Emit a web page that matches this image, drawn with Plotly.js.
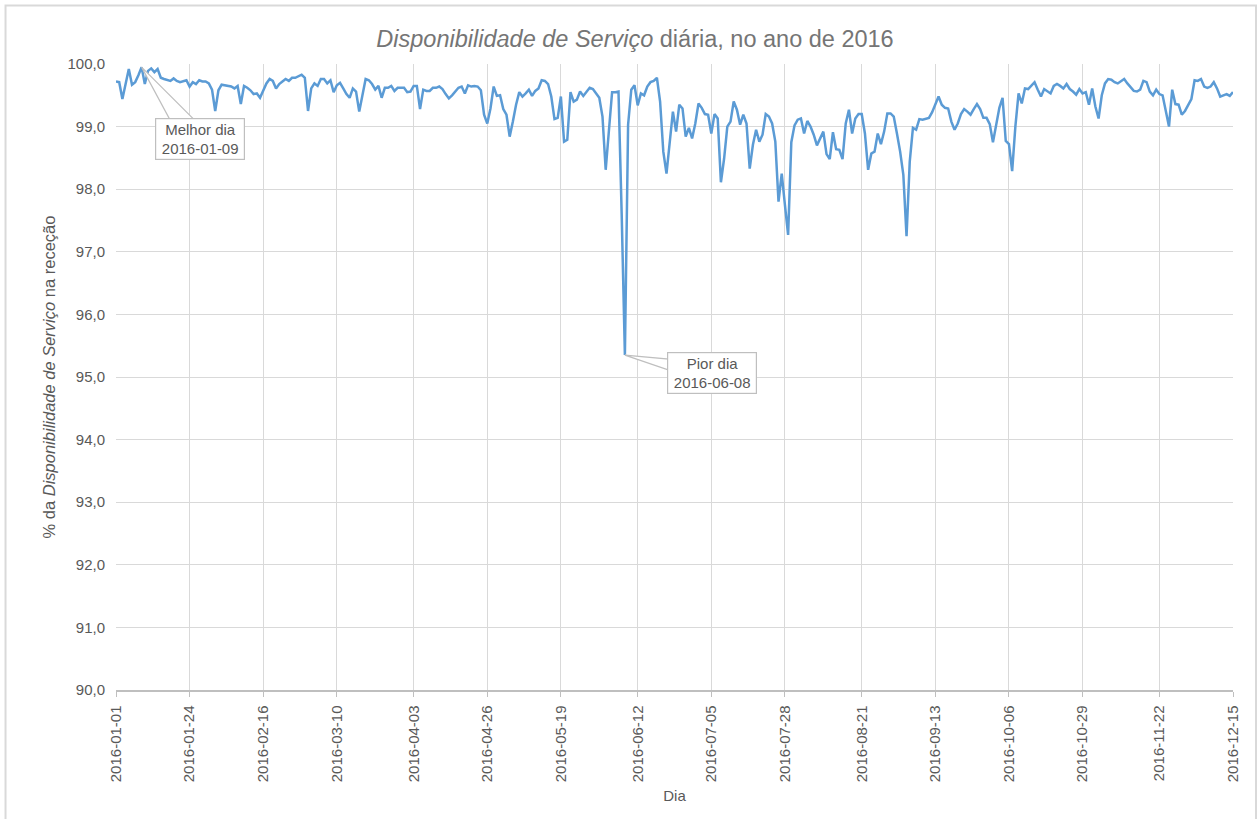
<!DOCTYPE html>
<html>
<head>
<meta charset="utf-8">
<script src="https://cdn.plot.ly/plotly-3.0.1.min.js"></script>
<style>html,body{margin:0;padding:0;background:#fff}#chart{width:1258px;height:819px}</style>
</head>
<body>
<div id="chart"></div>
<script>
// Daily availability (%) from 2016-01-01 to 2016-12-15, one value per day
const startDate = '2016-01-01';
const availability = [
99.72,99.71,99.44,99.66,99.92,99.67,99.71,99.82,99.95,99.68,
99.89,99.93,99.87,99.92,99.78,99.76,99.74,99.73,99.77,99.73,
99.71,99.72,99.74,99.64,99.71,99.68,99.74,99.72,99.72,99.69,
99.59,99.25,99.58,99.67,99.66,99.66,99.64,99.61,99.65,99.36,
99.65,99.62,99.58,99.52,99.53,99.46,99.57,99.69,99.76,99.73,
99.61,99.68,99.72,99.76,99.73,99.78,99.78,99.80,99.83,99.78,
99.25,99.61,99.69,99.65,99.76,99.76,99.69,99.74,99.55,99.66,
99.70,99.61,99.52,99.46,99.61,99.56,99.24,99.50,99.76,99.74,
99.68,99.59,99.65,99.46,99.62,99.62,99.65,99.57,99.62,99.62,
99.62,99.55,99.56,99.65,99.65,99.28,99.59,99.57,99.57,99.62,
99.62,99.64,99.60,99.52,99.45,99.50,99.57,99.62,99.64,99.53,
99.66,99.64,99.65,99.64,99.58,99.19,99.05,99.29,99.64,99.49,
99.50,99.28,99.19,98.84,99.08,99.35,99.55,99.48,99.53,99.59,
99.49,99.57,99.61,99.74,99.73,99.68,99.48,99.12,99.14,99.48,
98.76,98.79,99.55,99.40,99.43,99.56,99.49,99.55,99.62,99.60,
99.53,99.46,99.16,98.31,98.93,99.55,99.55,99.56,97.60,95.35,
99.03,99.59,99.66,99.34,99.53,99.50,99.64,99.71,99.73,99.78,
99.40,98.60,98.25,98.76,99.24,98.92,99.35,99.29,98.84,98.98,
98.81,99.05,99.37,99.30,99.20,99.19,98.89,99.20,99.13,98.11,
98.49,99.00,99.08,99.40,99.27,99.03,99.19,99.05,98.33,98.71,
98.95,98.76,98.87,99.20,99.16,99.05,98.76,97.80,98.25,97.75,
97.27,98.75,99.02,99.11,99.13,98.89,99.09,99.00,98.87,98.70,
98.80,98.92,98.56,98.48,98.91,98.64,98.63,98.48,99.05,99.27,
98.89,99.13,99.20,99.20,98.89,98.31,98.57,98.60,98.89,98.72,
98.92,99.21,99.21,99.16,98.89,98.60,98.23,97.25,98.44,98.98,
98.95,99.12,99.11,99.13,99.14,99.23,99.35,99.48,99.35,99.30,
99.29,99.08,98.95,99.05,99.20,99.28,99.24,99.19,99.28,99.36,
99.28,99.14,99.14,99.04,98.75,99.05,99.30,99.46,98.77,98.72,
98.29,99.00,99.53,99.37,99.61,99.60,99.65,99.71,99.59,99.48,
99.60,99.57,99.53,99.65,99.68,99.65,99.61,99.68,99.60,99.56,
99.51,99.60,99.53,99.55,99.35,99.61,99.32,99.13,99.50,99.69,
99.76,99.75,99.71,99.69,99.72,99.76,99.69,99.63,99.57,99.56,
99.59,99.73,99.71,99.56,99.50,99.59,99.52,99.50,99.27,99.00,
99.59,99.36,99.35,99.19,99.25,99.35,99.44,99.74,99.73,99.76,
99.64,99.62,99.64,99.71,99.61,99.48,99.50,99.52,99.49,99.55
];
const xTickLabels = ['2016-01-01','2016-01-24','2016-02-16','2016-03-10','2016-04-03','2016-04-26',
  '2016-05-19','2016-06-12','2016-07-05','2016-07-28','2016-08-21','2016-09-13','2016-10-06',
  '2016-10-29','2016-11-22','2016-12-15'];
const yTickValues = [90,91,92,93,94,95,96,97,98,99,100];

// consecutive day dates (category axis of the series)
const days = [];
const t0 = Date.parse(startDate + 'T00:00:00Z');
for (let i = 0; i < availability.length; i++) {
  days.push(new Date(t0 + i * 86400000).toISOString().slice(0, 10));
}
let iBest = 0, iWorst = 0;
availability.forEach((v, i) => { if (v > availability[iBest]) iBest = i; if (v < availability[iWorst]) iWorst = i; });

const grey = '#595959';
const font = 'Liberation Sans, Arial, sans-serif';

const trace = {
  x: days, y: availability, type: 'scatter', mode: 'lines',
  line: {color: '#5B9BD5', width: 2.5}, hoverinfo: 'x+y'
};

const layout = {
  width: 1258, height: 819,
  margin: {l: 116, r: 25, t: 64, b: 129},
  paper_bgcolor: '#ffffff', plot_bgcolor: '#ffffff',
  separators: ',.',
  showlegend: false,
  font: {family: font, color: grey, size: 15},
  title: {
    text: '<i>Disponibilidade de Serviço</i> diária, no ano de 2016',
    font: {family: font, size: 23.5, color: '#757575'},
    x: 635 / 1258, xref: 'container', xanchor: 'center',
    y: 1 - 39 / 819, yref: 'container', yanchor: 'middle'
  },
  xaxis: {
    type: 'date',
    range: [xTickLabels[0], xTickLabels[xTickLabels.length - 1]],
    tickmode: 'array', tickvals: xTickLabels, ticktext: xTickLabels,
    tickangle: -90,
    ticks: 'outside', ticklen: 5, tickcolor: '#bfbfbf', tickwidth: 1,
    showgrid: true, gridcolor: '#d9d9d9', gridwidth: 1,
    showline: true, linecolor: '#bfbfbf', linewidth: 1.5,
    zeroline: false,
    tickfont: {family: font, size: 15, color: grey},
    ticklabelstandoff: 3,
    title: {text: 'Dia', font: {family: font, size: 15, color: grey}, standoff: 9}
  },
  yaxis: {
    range: [90, 100],
    tickmode: 'array', tickvals: yTickValues, tickformat: '.1f',
    showgrid: true, gridcolor: '#d9d9d9', gridwidth: 1,
    showline: false, zeroline: false, ticks: '',
    tickfont: {family: font, size: 15, color: grey},
    ticklabelstandoff: 10,
    title: {text: '% da <i>Disponibilidade de Serviço</i> na receção', font: {family: font, size: 16.5, color: grey}, standoff: 7}
  },
  shapes: [
    {type: 'rect', xref: 'paper', yref: 'paper', x0: -0.0989, x1: 1.0206, y0: -0.25, y1: 1.0935,
     line: {color: '#d9d9d9', width: 2}, fillcolor: 'rgba(0,0,0,0)', layer: 'below'},
    {type: 'path', xref: 'x', yref: 'y', xsizemode: 'pixel', ysizemode: 'pixel',
     xanchor: days[iBest], yanchor: availability[iBest],
     path: 'M 0,0 L 28,-52 L 52,-52 Z', fillcolor: '#ffffff', line: {color: '#bfbfbf', width: 1.2}, layer: 'above'},
    {type: 'path', xref: 'x', yref: 'y', xsizemode: 'pixel', ysizemode: 'pixel',
     xanchor: days[iWorst], yanchor: availability[iWorst],
     path: 'M 0,0 L 44,-4 L 44,-15 Z', fillcolor: '#ffffff', line: {color: '#bfbfbf', width: 1.2}, layer: 'above'}
  ],
  annotations: [
    {x: days[iBest], y: availability[iBest], xref: 'x', yref: 'y', showarrow: false,
     text: 'Melhor dia<br>' + days[iBest], xshift: 58, yshift: -72,
     xanchor: 'center', yanchor: 'middle', width: 88, height: 40, align: 'center',
     bgcolor: '#ffffff', bordercolor: '#bfbfbf', borderwidth: 1.2, borderpad: 0,
     font: {family: font, size: 15, color: grey}},
    {x: days[iWorst], y: availability[iWorst], xref: 'x', yref: 'y', showarrow: false,
     text: 'Pior dia<br>' + days[iWorst], xshift: 87, yshift: -18,
     xanchor: 'center', yanchor: 'middle', width: 88, height: 40, align: 'center',
     bgcolor: '#ffffff', bordercolor: '#bfbfbf', borderwidth: 1.2, borderpad: 0,
     font: {family: font, size: 15, color: grey}}
  ]
};

Plotly.newPlot('chart', [trace], layout, {displayModeBar: false, staticPlot: true});
</script>
</body>
</html>
